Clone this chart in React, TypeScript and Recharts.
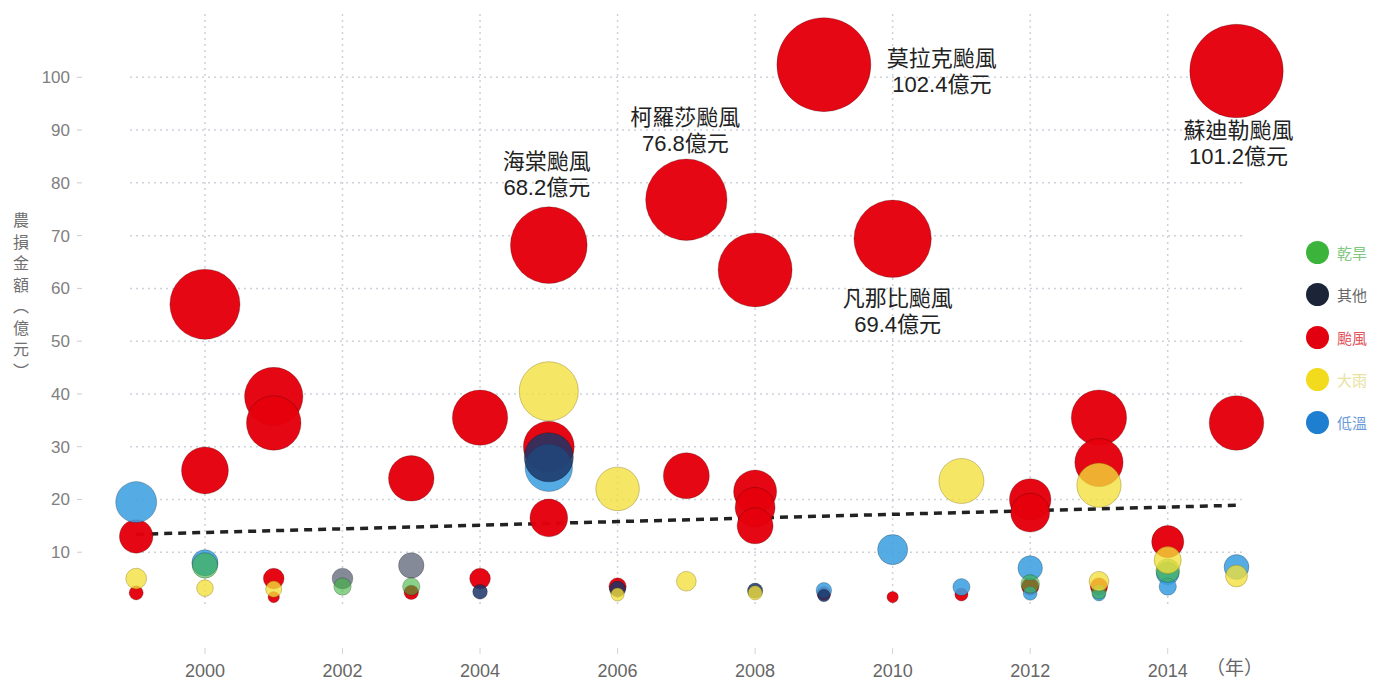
import React from "react"
import {
  CartesianGrid,
  Cell,
  ReferenceDot,
  ReferenceLine,
  Scatter,
  ScatterChart,
  XAxis,
  YAxis,
  ZAxis,
} from "recharts"

const FONT = '"Liberation Sans", "Noto Sans CJK TC", sans-serif'

// 颱風
const typhoonYears = [1999, 1999, 2000, 2000, 2001, 2001, 2001, 2001, 2003, 2003, 2004, 2004, 2005, 2005, 2005, 2006, 2007, 2007, 2008, 2008, 2008, 2008, 2009, 2009, 2010, 2010, 2011, 2012, 2012, 2012, 2013, 2013, 2013, 2014, 2015, 2015]
const typhoonValues = [13, 2.3, 57, 25.5, 39.5, 34.5, 5, 1.5, 24, 2.4, 35.5, 5, 68.2, 30, 16.5, 3.5, 76.8, 24.5, 63.5, 21.5, 18.5, 15, 102.4, 2.2, 69.4, 1.5, 2, 20, 17.5, 3.5, 35.5, 27, 3.5, 12, 101.2, 34.5]

// 大雨
const rainYears = [1999, 2000, 2001, 2005, 2006, 2006, 2007, 2008, 2011, 2013, 2013, 2014, 2015]
const rainValues = [5, 3.2, 3, 40.5, 22, 2, 4.5, 2.3, 23.5, 22.7, 4.5, 8.5, 5.5]

// 低溫
const coldYears = [1999, 2000, 2005, 2009, 2010, 2011, 2012, 2012, 2013, 2014, 2014, 2015]
const coldValues = [19.5, 8, 26, 2.8, 10.5, 3.4, 7, 2.2, 2, 6, 3.5, 7.2]

// 其他
const otherYears = [2002, 2003, 2004, 2005, 2006, 2008, 2009]
const otherValues = [5, 7.5, 2.5, 28, 3, 2.7, 1.8]

// 乾旱
const droughtYears = [2000, 2002, 2003, 2012, 2013, 2014]
const droughtValues = [7.5, 3.5, 3.5, 4, 2.5, 6.5]

// 趨勢線
const trendYears = [1999, 2015]
const trendValues = [13.4, 18.9]

// 標註的颱風
const namedTyphoons = ["海棠颱風", "柯羅莎颱風", "莫拉克颱風", "凡那比颱風", "蘇迪勒颱風"]
const namedYears = [2005, 2007, 2009, 2010, 2015]
const namedValues = [68.2, 76.8, 102.4, 69.4, 101.2]

const xTicks = [2000, 2002, 2004, 2006, 2008, 2010, 2012, 2014]
const yTicks = [10, 20, 30, 40, 50, 60, 70, 80, 90, 100]

const X_DOMAIN: [number, number] = [1998.91, 2015.08]
const Y_DOMAIN: [number, number] = [0, 112]

// 標籤相對泡泡中心的位移
const LABEL_OFFSETS: Record<string, [number, number]> = {
  海棠颱風: [-2, -76],
  柯羅莎颱風: [-1, -75],
  莫拉克颱風: [118, 1],
  凡那比颱風: [5, 67],
  蘇迪勒颱風: [2, 67],
}

const GREY_OTHER_YEARS = [2002, 2003]

const COLORS = {
  drought: "#3cb43c",
  other: "#1b3566",
  otherGrey: "#6f7686",
  typhoon: "#e4000c",
  rain: "#f2df3a",
  cold: "#3d9fe0",
}

const legendItems = [
  { name: "乾旱", color: "#3cb43c", text: "#80c880" },
  { name: "其他", color: "#1c2438", text: "#666" },
  { name: "颱風", color: "#e20010", text: "#e0505a" },
  { name: "大雨", color: "#f2da1c", text: "#e8e2a0" },
  { name: "低溫", color: "#1e7fd0", text: "#6a9ad8" },
]

function toPoints(years: number[], values: number[]) {
  return years.map((x, i) => ({ x, y: values[i], z: values[i] }))
}

function XTick({ x, y, payload }: any) {
  return (
    <g>
      <line x1={x} x2={x} y1={y + 43} y2={y + 49} stroke="#d4d4d4" />
      <text x={x} y={y + 72} textAnchor="middle" fontSize={18} fill="#666" fontFamily={FONT}>
        {payload.value}
      </text>
    </g>
  )
}

function YTick({ x, y, payload }: any) {
  return (
    <g>
      <text x={x - 60} y={y + 6} textAnchor="end" fontSize={17} fill="#808080" fontFamily={FONT}>
        {payload.value}
      </text>
      <line x1={x - 53} x2={x - 48} y1={y} y2={y} stroke="#ccc" />
    </g>
  )
}

function makeLabel(name: string, amount: number) {
  const [dx, dy] = LABEL_OFFSETS[name] ?? [0, 0]
  return (props: any) => {
    const vb = props.viewBox
    const cx = vb.x + vb.width / 2 + dx
    const cy = vb.y + vb.height / 2 + dy
    return (
      <text x={cx} y={cy} textAnchor="middle" fontSize={22} fill="#222" fontFamily={FONT}>
        <tspan x={cx}>{name}</tspan>
        <tspan x={cx} dy={26}>{`${amount}億元`}</tspan>
      </text>
    )
  }
}

// 只在刻度上畫格線（不畫外框）
function hLines({ offset }: any) {
  const [lo, hi] = Y_DOMAIN
  return yTicks.map((t) => offset.top + ((hi - t) / (hi - lo)) * offset.height)
}

function vLines({ offset }: any) {
  const [lo, hi] = X_DOMAIN
  return xTicks.map((t) => offset.left + ((t - lo) / (hi - lo)) * offset.width)
}

export default function App() {
  const bubble = { stroke: "rgba(0,0,0,0.22)", strokeWidth: 1 }
  return (
    <div style={{ position: "absolute", left: 0, top: 0, width: 1379, height: 682, background: "#fff", fontFamily: FONT }}>
      <ScatterChart width={1379} height={682} margin={{ top: 14, right: 137, bottom: 0, left: 0 }}>
        <CartesianGrid
          stroke="#cdd2da"
          strokeDasharray="2 4"
          strokeWidth={1.5}
          horizontalCoordinatesGenerator={hLines}
          verticalCoordinatesGenerator={vLines}
        />
        <XAxis
          type="number"
          dataKey="x"
          domain={X_DOMAIN}
          ticks={xTicks}
          interval={0}
          height={77}
          axisLine={false}
          tickLine={false}
          tickSize={0}
          tickMargin={0}
          tick={<XTick />}
          label={{
            content: (p: any) => (
              <text x={p.viewBox.x + p.viewBox.width - 36} y={p.viewBox.y + 70} fontSize={19} fill="#666" fontFamily={FONT}>
                （年）
              </text>
            ),
          }}
        />
        <YAxis
          type="number"
          dataKey="y"
          domain={Y_DOMAIN}
          ticks={yTicks}
          interval={0}
          width={130}
          axisLine={false}
          tickLine={false}
          tickSize={0}
          tickMargin={0}
          tick={<YTick />}
        />
        <ZAxis type="number" dataKey="z" domain={[0, 102.4]} range={[0, Math.PI * 47 * 47]} />
        <ReferenceLine
          segment={[
            { x: trendYears[0], y: trendValues[0] },
            { x: trendYears[1], y: trendValues[1] },
          ]}
          stroke="#222"
          strokeWidth={3.5}
          strokeDasharray="8 6"
          ifOverflow="visible"
        />
        <Scatter name="颱風" data={toPoints(typhoonYears, typhoonValues)} fill={COLORS.typhoon} fillOpacity={0.97} {...bubble} isAnimationActive={false} />
        <Scatter name="低溫" data={toPoints(coldYears, coldValues)} fill={COLORS.cold} fillOpacity={0.88} {...bubble} isAnimationActive={false} />
        <Scatter name="其他" data={toPoints(otherYears, otherValues)} fill={COLORS.other} fillOpacity={0.85} {...bubble} isAnimationActive={false}>
          {otherYears.map((yr, i) => (
            <Cell key={i} fill={GREY_OTHER_YEARS.includes(yr) ? COLORS.otherGrey : COLORS.other} />
          ))}
        </Scatter>
        <Scatter name="乾旱" data={toPoints(droughtYears, droughtValues)} fill={COLORS.drought} fillOpacity={0.6} {...bubble} isAnimationActive={false} />
        <Scatter name="大雨" data={toPoints(rainYears, rainValues)} fill={COLORS.rain} fillOpacity={0.78} stroke="rgba(120,100,0,0.35)" strokeWidth={1} isAnimationActive={false} />
        {namedTyphoons.map((name, i) => (
          <ReferenceDot
            key={name}
            x={namedYears[i]}
            y={namedValues[i]}
            r={0}
            fill="none"
            stroke="none"
            ifOverflow="visible"
            label={makeLabel(name, namedValues[i])}
          />
        ))}
      </ScatterChart>

      <div
        style={{
          position: "absolute",
          left: 7,
          top: 212,
          writingMode: "vertical-rl",
          fontSize: 16,
          letterSpacing: 5.5,
          color: "#707070",
          fontFamily: FONT,
        }}
      >
        農損金額（億元）
      </div>

      <div style={{ position: "absolute", left: 1306, top: 231 }}>
        {legendItems.map((it) => (
          <div key={it.name} style={{ display: "flex", alignItems: "center", height: 42.5 }}>
            <span style={{ width: 23, height: 23, borderRadius: "50%", background: it.color, display: "inline-block" }} />
            <span style={{ marginLeft: 8, fontSize: 15, color: it.text, whiteSpace: "nowrap" }}>{it.name}</span>
          </div>
        ))}
      </div>
    </div>
  )
}
